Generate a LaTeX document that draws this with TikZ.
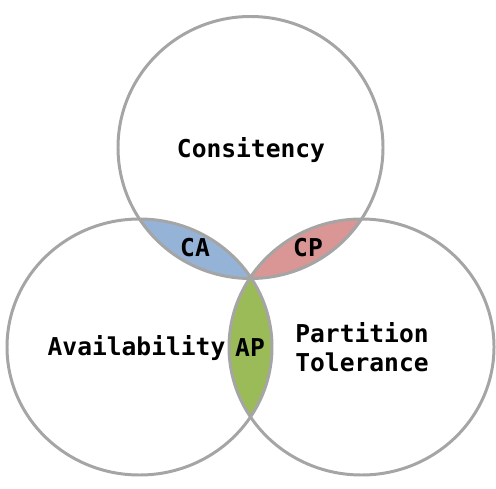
\documentclass[tikz,border=0pt]{standalone}
\usepackage{fontspec}
\setmonofont{DejaVu Sans Mono}
\usetikzlibrary{positioning}
\definecolor{ringgray}{RGB}{165,165,165}
\definecolor{cafill}{RGB}{149,179,215}
\definecolor{cpfill}{RGB}{217,150,148}
\definecolor{apfill}{RGB}{155,187,89}
\tikzset{
  ring/.style={draw=ringgray, line width=1.7pt},
  lbl/.style={font=\ttfamily\bfseries\fontsize{14}{16.5}\selectfont, align=left, inner sep=0pt},
  topr/.style={x radius=132.5, y radius=131},
  botr/.style={x radius=132.5, y radius=128},
}

\begin{document}
\begin{tikzpicture}[x=0.02cm, y=-0.02cm]
  \useasboundingbox (0,0) rectangle (496,489);
  \coordinate (ctop) at (250.5,147.5);
  \coordinate (cleft) at (139.5,347);
  \coordinate (cright) at (361.5,347);
  % pairwise overlaps
  \begin{scope}
    \clip (ctop) ellipse [topr];
    \fill[cafill] (cleft) ellipse [botr];
    \fill[cpfill] (cright) ellipse [botr];
  \end{scope}
  \begin{scope}
    \clip (cleft) ellipse [botr];
    \fill[apfill] (cright) ellipse [botr];
  \end{scope}
  % the three sets
  \draw[ring] (ctop) ellipse [topr];
  \draw[ring] (cleft) ellipse [botr];
  \draw[ring] (cright) ellipse [botr];
  \node[lbl] (cons) at (251,150) {Consitency};
  \node[lbl] (avail) at (136.5,348) {Availability};
  \node[lbl, anchor=west] (part) at (295,347.5) {Partition\\Tolerance};
  \node[lbl] (ca) at (195,248) {CA};
  \node[lbl] (cp) at (308,248) {CP};
  \node[lbl] (ap) at (250,348) {AP};
\end{tikzpicture}
\end{document}
